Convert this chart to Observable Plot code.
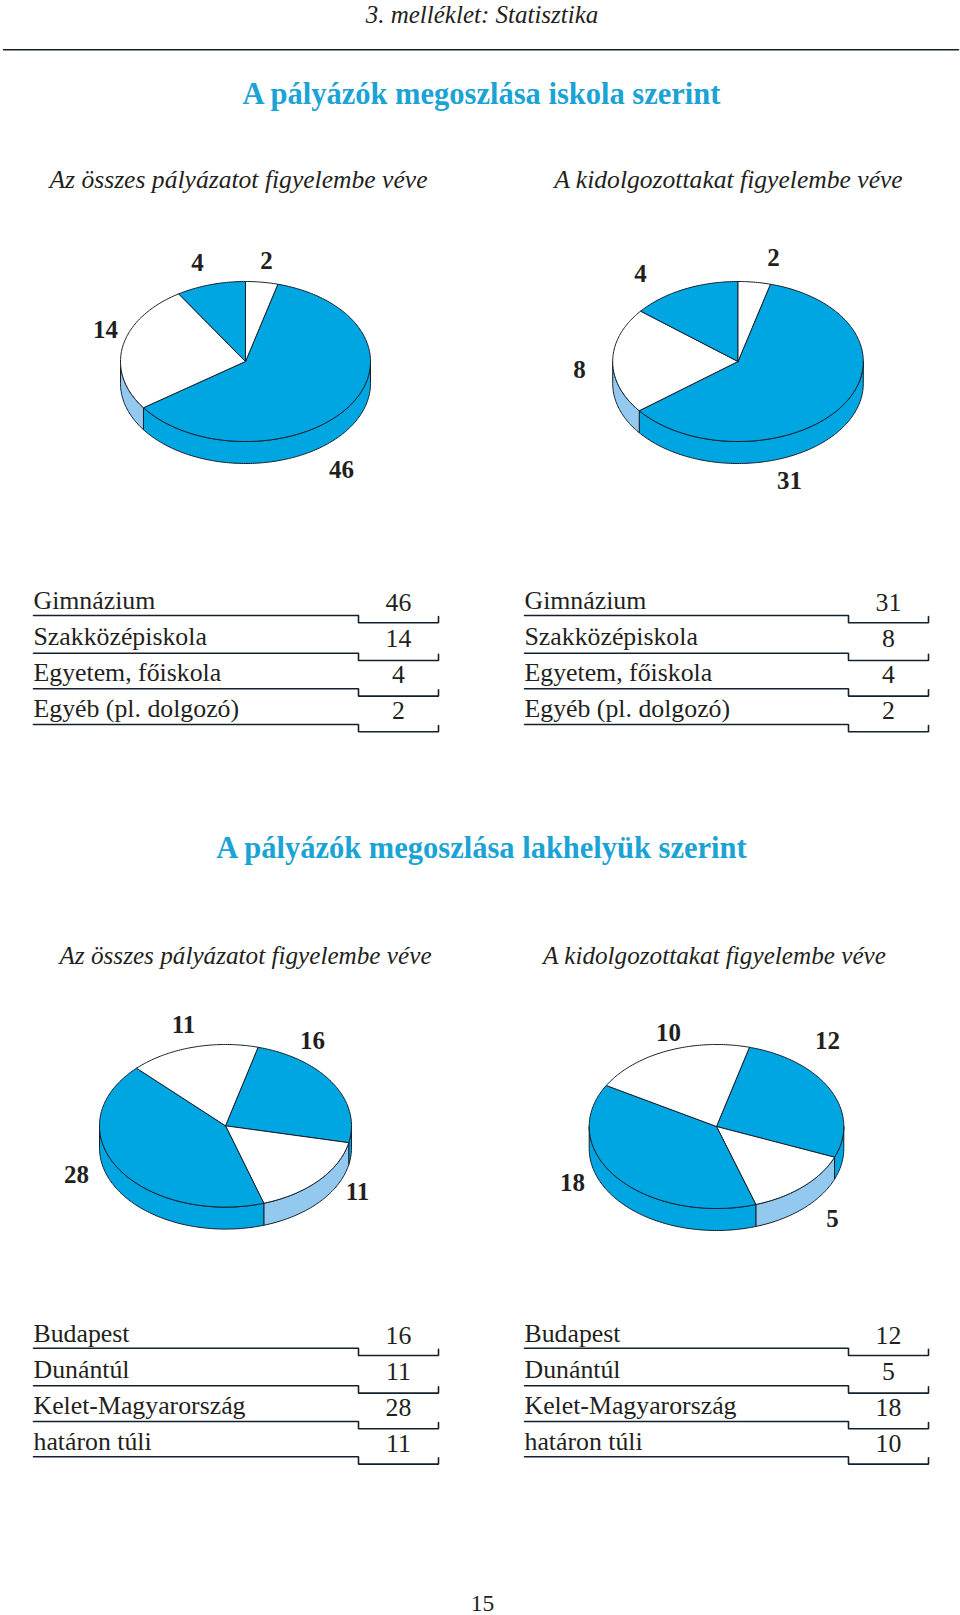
<!DOCTYPE html>
<html lang="hu">
<head>
<meta charset="utf-8">
<script src="https://cdn.jsdelivr.net/npm/d3@7"></script>
<script src="https://cdn.jsdelivr.net/npm/@observablehq/plot@0.6"></script>
<style>html,body{margin:0;padding:0;background:#fff}svg{display:block}</style>
</head>
<body>
<div id="chart"></div>
<script>
// ---- data ----
const headerText = "3. melléklet: Statisztika";
const titleSchool = "A pályázók megoszlása iskola szerint";
const titleHome = "A pályázók megoszlása lakhelyük szerint";
const subAll = "Az összes pályázatot figyelembe véve";
const subWorked = "A kidolgozottakat figyelembe véve";
const pageNumber = "15";

const schoolCategories = ["Gimnázium", "Szakközépiskola", "Egyetem, főiskola", "Egyéb (pl. dolgozó)"];
const homeCategories = ["Budapest", "Dunántúl", "Kelet-Magyarország", "határon túli"];

const schoolAll = [46, 14, 4, 2];
const schoolWorked = [31, 8, 4, 2];
const homeAll = [16, 11, 28, 11];
const homeWorked = [12, 5, 18, 10];

// Slice sizes as drawn in the picture, in degrees. In the original the printed
// numbers and the drawn wedges do not always agree, so both are kept.
const schoolAllDrawn = [219.7, 93, 32.3, 15];
const schoolWorkedDrawn = [217, 77, 51, 15];
const homeAllDrawn = [87, 60.3, 152.8, 59.9];
const homeWorkedDrawn = [97, 50, 138, 75];

// ---- layout and style ----
const W = 960, H = 1615;
const serif = "'Liberation Serif', serif";
const BLUE = "#00a6e2", LIGHT = "#93c9ee", WHITE = "#ffffff", INK = "#14202c", TEXT = "#231f20", TITLE = "#1ba3d6";
const sliceFill = [BLUE, WHITE, BLUE, WHITE];
const wallFill = [BLUE, LIGHT, BLUE, LIGHT];
const START = 15, DEPTH = 22;

const pieLayout = [
  {values: schoolAll, drawn: schoolAllDrawn, cx: 245, cy: 361, rx: 125, ry: 80,
   labels: [[341, 477], [105, 337], [197, 270], [266, 268]]},
  {values: schoolWorked, drawn: schoolWorkedDrawn, cx: 737.5, cy: 361, rx: 125.3, ry: 80,
   labels: [[789, 488], [579, 377], [640, 281], [773, 265]]},
  {values: homeAll, drawn: homeAllDrawn, cx: 225, cy: 1125.3, rx: 126, ry: 81.3,
   labels: [[312, 1048], [357, 1199], [76, 1182], [183, 1032]]},
  {values: homeWorked, drawn: homeWorkedDrawn, cx: 716, cy: 1126, rx: 127.3, ry: 82,
   labels: [[827, 1048], [832, 1226], [572, 1190], [668, 1040]]}
];

const tableLayout = [
  {cats: schoolCategories, values: schoolAll, left: 33, mid: 358, right: 438, num: 398,
   line: [615, 652.7, 688.3, 724], lab: [608.3, 644.3, 680.7, 716.3], numY: [610.7, 646.3, 682.3, 718.3]},
  {cats: schoolCategories, values: schoolWorked, left: 524, mid: 848, right: 928, num: 888,
   line: [615, 652.7, 688.3, 724], lab: [608.3, 644.3, 680.7, 716.3], numY: [610.7, 646.3, 682.3, 718.3]},
  {cats: homeCategories, values: homeAll, left: 33, mid: 358, right: 438, num: 398,
   line: [1347.7, 1385.3, 1421, 1456.3], lab: [1341, 1377, 1413, 1449], numY: [1343.3, 1379, 1415, 1451.7]},
  {cats: homeCategories, values: homeWorked, left: 524, mid: 848, right: 928, num: 888,
   line: [1347.7, 1385.3, 1421, 1456.3], lab: [1341, 1377, 1413, 1449], numY: [1343.3, 1379, 1415, 1451.7]}
];

const headings = [
  {t: headerText, x: 481.5, y: 22.5, size: 25, style: "italic", weight: "normal", fill: TEXT},
  {t: titleSchool, x: 481, y: 103.5, size: 30.5, style: "normal", weight: "bold", fill: TITLE},
  {t: titleHome, x: 481, y: 857, size: 30.5, style: "normal", weight: "bold", fill: TITLE},
  {t: subAll, x: 238, y: 187, size: 25.6, style: "italic", weight: "normal", fill: TEXT},
  {t: subWorked, x: 728, y: 187, size: 25.6, style: "italic", weight: "normal", fill: TEXT},
  {t: subAll, x: 245, y: 963, size: 25.2, style: "italic", weight: "normal", fill: TEXT},
  {t: subWorked, x: 714, y: 963, size: 25.2, style: "italic", weight: "normal", fill: TEXT},
  {t: pageNumber, x: 482, y: 1610, size: 23.5, style: "normal", weight: "normal", fill: TEXT}
];

// ---- geometry helpers: map a pie angle to a point on the tilted disc ----
const deg = Math.PI / 180;
const onRim = (p, a, drop = 0) => ({x: p.cx + p.rx * Math.sin(a), y: p.cy - p.ry * Math.cos(a) + drop});
function arcPoints(p, a0, a1, drop = 0) {
  const n = Math.max(2, Math.ceil((a1 - a0) / (1 * deg)));
  return d3.range(n + 1).map(i => onRim(p, a0 + (a1 - a0) * i / n, drop));
}

const lineOpts = {x: "x", y: "y", curve: "linear"};
const marks = [];

for (const p of pieLayout) {
  const arcs = d3.pie().sort(null).value(d => d)
    .startAngle(START * deg).endAngle(START * deg + 2 * Math.PI)(p.drawn);
  // side wall: the part of each slice on the front half of the disc
  arcs.forEach((s, i) => {
    for (const k of [0, 1]) {
      const lo = Math.max(s.startAngle, 90 * deg + k * 2 * Math.PI);
      const hi = Math.min(s.endAngle, 270 * deg + k * 2 * Math.PI);
      if (hi <= lo) continue;
      const poly = [...arcPoints(p, lo, hi), ...arcPoints(p, lo, hi, DEPTH).reverse()];
      poly.push(poly[0]);
      marks.push(Plot.line(poly, {...lineOpts, fill: wallFill[i], stroke: INK, strokeWidth: 1}));
    }
  });
  // top of the disc
  arcs.forEach((s, i) => {
    const c = {x: p.cx, y: p.cy};
    const poly = [c, ...arcPoints(p, s.startAngle, s.endAngle), c];
    marks.push(Plot.line(poly, {...lineOpts, fill: sliceFill[i], stroke: INK, strokeWidth: 1}));
  });
  // value labels next to the pie
  marks.push(Plot.text(p.values.map((v, i) => ({v, x: p.labels[i][0], y: p.labels[i][1]})), {
    x: "x", y: "y", text: d => String(d.v), textAnchor: "middle", lineAnchor: "bottom",
    fontFamily: serif, fontWeight: "bold", fontSize: 25, fill: TEXT
  }));
}

for (const t of tableLayout) {
  const drop = 7.3;
  t.line.forEach(y => {
    marks.push(Plot.line([
      {x: t.left, y}, {x: t.mid, y}, {x: t.mid, y: y + drop}, {x: t.right, y: y + drop}, {x: t.right, y: y + 1}
    ], {...lineOpts, stroke: INK, strokeWidth: 1.6, strokeLinejoin: "miter"}));
  });
  marks.push(Plot.text(t.cats.map((c, i) => ({c, y: t.lab[i]})), {
    x: () => t.left, y: "y", text: "c", textAnchor: "start", lineAnchor: "bottom",
    fontFamily: serif, fontSize: 25.8, fill: TEXT
  }));
  marks.push(Plot.text(t.values.map((v, i) => ({v, y: t.numY[i]})), {
    x: () => t.num, y: "y", text: d => String(d.v), textAnchor: "middle", lineAnchor: "bottom",
    fontFamily: serif, fontSize: 25.8, fill: TEXT
  }));
}

marks.push(Plot.line([{x: 3, y: 49.3}, {x: 958, y: 49.3}], {...lineOpts, stroke: INK, strokeWidth: 1.6}));

for (const h of headings) {
  marks.push(Plot.text([h], {
    x: "x", y: "y", text: "t", textAnchor: "middle", lineAnchor: "bottom",
    fontFamily: serif, fontSize: h.size, fontStyle: h.style, fontWeight: h.weight, fill: h.fill
  }));
}

const chart = Plot.plot({
  width: W, height: H, margin: 0,
  x: {domain: [0, W], range: [0, W], axis: null},
  y: {domain: [0, H], range: [0, H], axis: null},
  style: {background: "#fff"},
  marks
});
document.getElementById("chart").append(chart);
</script>
</body>
</html>
